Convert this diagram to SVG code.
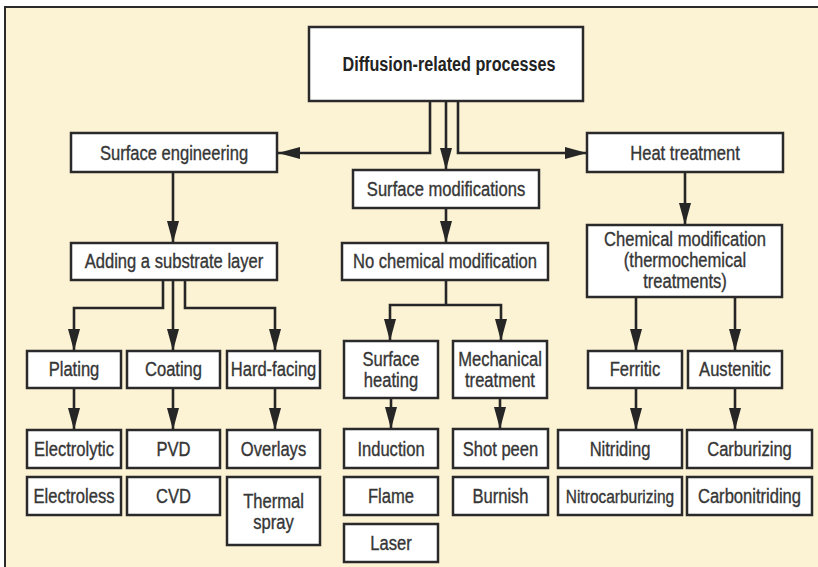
<svg xmlns="http://www.w3.org/2000/svg" width="818" height="567" viewBox="0 0 818 567">
  <defs>
    <marker id="arrow" viewBox="0 0 22 12" refX="22" refY="6" markerWidth="22" markerHeight="12" markerUnits="userSpaceOnUse" orient="auto">
      <path d="M0,0 L22,6 L0,12 Z" fill="#262626"/>
    </marker>
    <style>
      .box { fill: #ffffff; stroke: #2a2a2a; stroke-width: 2.5; }
      .lbl { font-family: "Liberation Sans", Arial, sans-serif; font-size: 19.5px; fill: #363636; stroke: #363636; stroke-width: 0.35; text-anchor: middle; }
      .ttl { font-weight: bold; fill: #222222; stroke: none; }
      .sm { font-size: 18px; }
      .link { fill: none; stroke: #262626; stroke-width: 2.6; }
    </style>
  </defs>

  <!-- page background and frame -->
  <rect x="0" y="0" width="818" height="567" fill="#ffffff"/>
  <rect x="5" y="7" width="813" height="560" fill="#fcf2d4"/>
  <path d="M5,567 V7 H818" fill="none" stroke="#2a2a2a" stroke-width="2"/>

  <!-- connectors -->
  <g id="connectors">
    <path class="link" d="M430,101 V153 H278" marker-end="url(#arrow)"/>
    <path class="link" d="M446,101 V170" marker-end="url(#arrow)"/>
    <path class="link" d="M458,101 V153 H587" marker-end="url(#arrow)"/>
    <path class="link" d="M173,172 V243" marker-end="url(#arrow)"/>
    <path class="link" d="M163,280 V308 H74 V351" marker-end="url(#arrow)"/>
    <path class="link" d="M173,280 V351" marker-end="url(#arrow)"/>
    <path class="link" d="M185,280 V308 H275 V351" marker-end="url(#arrow)"/>
    <path class="link" d="M446,208 V243" marker-end="url(#arrow)"/>
    <path class="link" d="M446,280 V305"/>
    <path class="link" d="M446,305 H390 V341" marker-end="url(#arrow)"/>
    <path class="link" d="M446,305 H501 V341" marker-end="url(#arrow)"/>
    <path class="link" d="M685,172 V225" marker-end="url(#arrow)"/>
    <path class="link" d="M636,297 V351" marker-end="url(#arrow)"/>
    <path class="link" d="M735,297 V351" marker-end="url(#arrow)"/>
    <path class="link" d="M74,388 V430" marker-end="url(#arrow)"/>
    <path class="link" d="M173,388 V430" marker-end="url(#arrow)"/>
    <path class="link" d="M275,388 V430" marker-end="url(#arrow)"/>
    <path class="link" d="M391,398 V429" marker-end="url(#arrow)"/>
    <path class="link" d="M500,398 V429" marker-end="url(#arrow)"/>
    <path class="link" d="M636,388 V430" marker-end="url(#arrow)"/>
    <path class="link" d="M735,388 V430" marker-end="url(#arrow)"/>
  </g>

  <!-- level 0 -->
  <g id="diffusion-related-processes">
    <rect class="box" x="309" y="27" width="274" height="74"/>
    <text class="lbl ttl" transform="translate(449,71) scale(0.83,1)">Diffusion-related processes</text>
  </g>

  <!-- level 1 -->
  <g id="surface-engineering">
    <rect class="box" x="71" y="133" width="206" height="39"/>
    <text class="lbl" transform="translate(174,160) scale(0.85,1)">Surface engineering</text>
  </g>
  <g id="surface-modifications">
    <rect class="box" x="353" y="170" width="186" height="38"/>
    <text class="lbl" transform="translate(446,196) scale(0.85,1)">Surface modifications</text>
  </g>
  <g id="heat-treatment">
    <rect class="box" x="587" y="133" width="196" height="39"/>
    <text class="lbl" transform="translate(685,160) scale(0.85,1)">Heat treatment</text>
  </g>

  <!-- level 2 -->
  <g id="adding-substrate-layer">
    <rect class="box" x="71" y="243" width="206" height="37"/>
    <text class="lbl" transform="translate(174,268) scale(0.85,1)">Adding a substrate layer</text>
  </g>
  <g id="no-chemical-modification">
    <rect class="box" x="342" y="243" width="206" height="37"/>
    <text class="lbl" transform="translate(445,268) scale(0.85,1)">No chemical modification</text>
  </g>
  <g id="chemical-modification">
    <rect class="box" x="587" y="225" width="195" height="72"/>
    <text class="lbl" transform="translate(685,246) scale(0.85,1)">Chemical modification</text>
    <text class="lbl" transform="translate(685,267) scale(0.85,1)">(thermochemical</text>
    <text class="lbl" transform="translate(685,288) scale(0.85,1)">treatments)</text>
  </g>

  <!-- level 3 -->
  <g id="plating">
    <rect class="box" x="27" y="351" width="94" height="37"/>
    <text class="lbl" transform="translate(74,376) scale(0.85,1)">Plating</text>
  </g>
  <g id="coating">
    <rect class="box" x="127" y="351" width="93" height="37"/>
    <text class="lbl" transform="translate(173.5,376) scale(0.85,1)">Coating</text>
  </g>
  <g id="hard-facing">
    <rect class="box" x="227" y="351" width="93" height="37"/>
    <text class="lbl" transform="translate(273.5,376) scale(0.85,1)">Hard-facing</text>
  </g>
  <g id="surface-heating">
    <rect class="box" x="344" y="341" width="94" height="57"/>
    <text class="lbl" transform="translate(391,366) scale(0.85,1)">Surface</text>
    <text class="lbl" transform="translate(391,387) scale(0.85,1)">heating</text>
  </g>
  <g id="mechanical-treatment">
    <rect class="box" x="453" y="341" width="94" height="57"/>
    <text class="lbl" transform="translate(500,366) scale(0.85,1)">Mechanical</text>
    <text class="lbl" transform="translate(500,387) scale(0.85,1)">treatment</text>
  </g>
  <g id="ferritic">
    <rect class="box" x="588" y="351" width="94" height="37"/>
    <text class="lbl" transform="translate(635,376) scale(0.85,1)">Ferritic</text>
  </g>
  <g id="austenitic">
    <rect class="box" x="688" y="351" width="94" height="37"/>
    <text class="lbl" transform="translate(735,376) scale(0.85,1)">Austenitic</text>
  </g>

  <!-- level 4 -->
  <g id="electrolytic">
    <rect class="box" x="27" y="430" width="94" height="38"/>
    <text class="lbl" transform="translate(74,456) scale(0.85,1)">Electrolytic</text>
  </g>
  <g id="electroless">
    <rect class="box" x="27" y="477" width="94" height="38"/>
    <text class="lbl" transform="translate(74,503) scale(0.85,1)">Electroless</text>
  </g>
  <g id="pvd">
    <rect class="box" x="127" y="430" width="93" height="38"/>
    <text class="lbl" transform="translate(173.5,456) scale(0.85,1)">PVD</text>
  </g>
  <g id="cvd">
    <rect class="box" x="127" y="477" width="93" height="38"/>
    <text class="lbl" transform="translate(173.5,503) scale(0.85,1)">CVD</text>
  </g>
  <g id="overlays">
    <rect class="box" x="227" y="430" width="93" height="38"/>
    <text class="lbl" transform="translate(273.5,456) scale(0.85,1)">Overlays</text>
  </g>
  <g id="thermal-spray">
    <rect class="box" x="227" y="477" width="93" height="68"/>
    <text class="lbl" transform="translate(273.5,508) scale(0.85,1)">Thermal</text>
    <text class="lbl" transform="translate(273.5,529) scale(0.85,1)">spray</text>
  </g>
  <g id="induction">
    <rect class="box" x="344" y="429" width="94" height="39"/>
    <text class="lbl" transform="translate(391,456) scale(0.85,1)">Induction</text>
  </g>
  <g id="flame">
    <rect class="box" x="344" y="477" width="94" height="38"/>
    <text class="lbl" transform="translate(391,503) scale(0.85,1)">Flame</text>
  </g>
  <g id="laser">
    <rect class="box" x="344" y="524" width="94" height="38"/>
    <text class="lbl" transform="translate(391,550) scale(0.85,1)">Laser</text>
  </g>
  <g id="shot-peen">
    <rect class="box" x="453" y="429" width="95" height="39"/>
    <text class="lbl" transform="translate(500.5,456) scale(0.85,1)">Shot peen</text>
  </g>
  <g id="burnish">
    <rect class="box" x="453" y="477" width="95" height="38"/>
    <text class="lbl" transform="translate(500.5,503) scale(0.85,1)">Burnish</text>
  </g>
  <g id="nitriding">
    <rect class="box" x="558" y="430" width="124" height="38"/>
    <text class="lbl" transform="translate(620,456) scale(0.85,1)">Nitriding</text>
  </g>
  <g id="nitrocarburizing">
    <rect class="box" x="558" y="477" width="124" height="38"/>
    <text class="lbl sm" transform="translate(620,503) scale(0.86,1)">Nitrocarburizing</text>
  </g>
  <g id="carburizing">
    <rect class="box" x="687" y="430" width="125" height="38"/>
    <text class="lbl" transform="translate(749.5,456) scale(0.85,1)">Carburizing</text>
  </g>
  <g id="carbonitriding">
    <rect class="box" x="687" y="477" width="125" height="38"/>
    <text class="lbl" transform="translate(749.5,503) scale(0.85,1)">Carbonitriding</text>
  </g>
</svg>
